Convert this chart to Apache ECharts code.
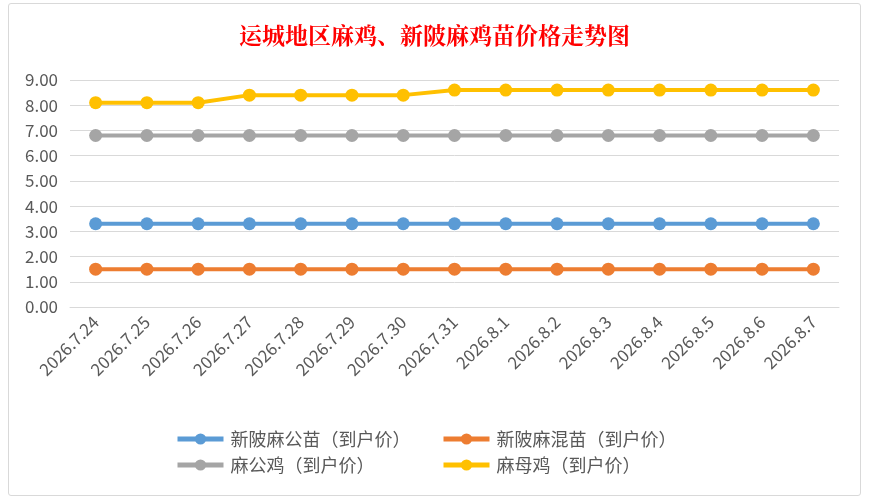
<!DOCTYPE html>
<html>
<head>
<meta charset="utf-8">
<script src="https://cdn.jsdelivr.net/npm/echarts@6/dist/echarts.min.js"></script>
<style>
    html, body { margin: 0; padding: 0; background: #fff; }
    #main { position: absolute; left: 8px; top: 3px; width: 853px; height: 493px; border: 1px solid #d9d9d9; border-radius: 3px; box-sizing: border-box; }
</style>
</head>
<body>
<div id="main"></div>
<script>
var dates = ['2026.7.24', '2026.7.25', '2026.7.26', '2026.7.27', '2026.7.28', '2026.7.29', '2026.7.30', '2026.7.31',
    '2026.8.1', '2026.8.2', '2026.8.3', '2026.8.4', '2026.8.5', '2026.8.6', '2026.8.7'];
var gongMiao = [3.3, 3.3, 3.3, 3.3, 3.3, 3.3, 3.3, 3.3, 3.3, 3.3, 3.3, 3.3, 3.3, 3.3, 3.3];   // 新陂麻公苗
var hunMiao = [1.5, 1.5, 1.5, 1.5, 1.5, 1.5, 1.5, 1.5, 1.5, 1.5, 1.5, 1.5, 1.5, 1.5, 1.5];    // 新陂麻混苗
var gongJi = [6.8, 6.8, 6.8, 6.8, 6.8, 6.8, 6.8, 6.8, 6.8, 6.8, 6.8, 6.8, 6.8, 6.8, 6.8];     // 麻公鸡
var muJi = [8.1, 8.1, 8.1, 8.4, 8.4, 8.4, 8.4, 8.6, 8.6, 8.6, 8.6, 8.6, 8.6, 8.6, 8.6];        // 麻母鸡
var names = ['新陂麻公苗（到户价）', '新陂麻混苗（到户价）', '麻公鸡（到户价）', '麻母鸡（到户价）'];
var colors = ['#5b9bd5', '#ed7d31', '#a5a5a5', '#ffc000'];

var fontFamily = '"Noto Sans CJK SC", "Open Sans", sans-serif';

function makeLine(name, data, color) {
    return {
        name: name,
        type: 'line',
        data: data,
        color: color,
        symbol: 'circle',
        symbolSize: 13,
        lineStyle: { width: 4, color: color },
        itemStyle: { color: color },
        z: 3
    };
}

function makeLegend(data, left) {
    return {
        data: data,
        orient: 'vertical',
        left: left,
        top: 421,
        itemGap: 8,
        itemWidth: 46,
        itemHeight: 14,
        lineStyle: { width: 5 },
        textStyle: { color: '#595959', fontSize: 18, padding: [0, 0, 0, 2] }
    };
}

var myChart = echarts.init(document.getElementById('main'));
var option = {
    animation: false,
    textStyle: { fontFamily: fontFamily },
    title: {
        text: '运城地区麻鸡、新陂麻鸡苗价格走势图',
        left: 'center',
        top: 15,
        textStyle: { color: '#ff0000', fontSize: 23, fontWeight: 'bold', fontFamily: '"Noto Serif CJK SC", "Noto Sans CJK SC", serif' }
    },
    legend: [
        makeLegend([names[0], names[2]], 161),
        makeLegend([names[1], names[3]], 427)
    ],
    grid: {
        left: 61,
        right: 21,
        top: 76,
        height: 227,
        containLabel: false
    },
    xAxis: {
        type: 'category',
        data: dates,
        boundaryGap: true,
        axisLine: { show: true, lineStyle: { color: '#d9d9d9', width: 1 } },
        axisTick: { show: false },
        axisLabel: { rotate: 45, color: '#595959', fontSize: 17, margin: 12, interval: 0 }
    },
    yAxis: {
        type: 'value',
        min: 0,
        max: 9,
        interval: 1,
        axisLine: { show: false },
        axisTick: { show: false },
        axisLabel: {
            color: '#595959',
            fontSize: 17,
            margin: 12,
            formatter: function (v) { return v.toFixed(2); }
        },
        splitLine: { lineStyle: { color: '#d9d9d9', width: 1 } }
    },
    series: [
        makeLine(names[0], gongMiao, colors[0]),
        makeLine(names[1], hunMiao, colors[1]),
        makeLine(names[2], gongJi, colors[2]),
        makeLine(names[3], muJi, colors[3])
    ]
};
myChart.setOption(option);
</script>
</body>
</html>
